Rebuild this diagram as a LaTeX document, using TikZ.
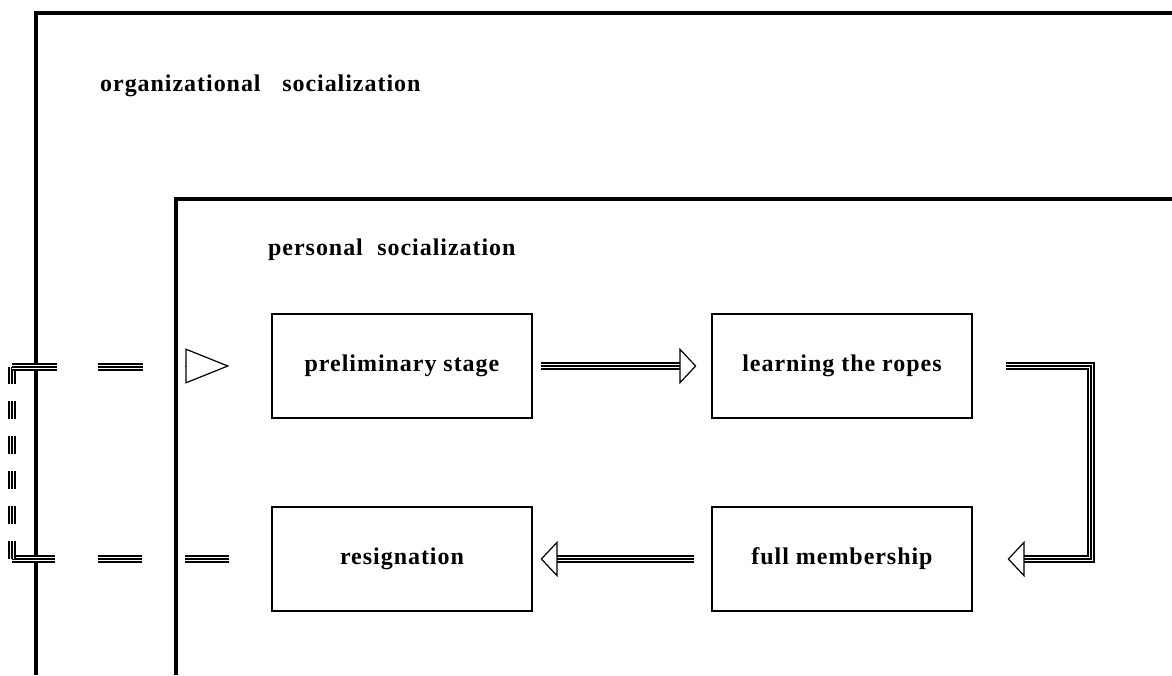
\documentclass[tikz,border=0pt]{standalone}
\usepackage{fontspec}
\setmainfont{Liberation Serif}[LetterSpace=4]
\usetikzlibrary{arrows.meta}
\newcommand\trip[2][]{%
  \draw[line width=8pt,#1] #2;
  \draw[white,line width=4.6pt,#1] #2;
  \draw[line width=2.2pt,#1] #2;}
\begin{document}
\begin{tikzpicture}[x=1pt,y=-1pt,
  stagebox/.style={draw,line width=1.1pt,minimum width=260pt,minimum height=104pt,
    font=\fontsize{24}{28}\selectfont\bfseries,inner sep=0pt},
  framel/.style={line width=3.5pt},
  lbl/.style={font=\fontsize{24}{28}\selectfont\bfseries,anchor=west,inner sep=0pt},
  head/.style={-{Triangle[open,length=17pt,width=36pt,line width=1.2pt]},line width=1pt},
  bighead/.style={-{Triangle[open,length=44pt,width=35pt,line width=1.2pt]},line width=1pt}]
\useasboundingbox (0,0) rectangle (1172,675);
% frames
\draw[framel] (36,675) -- (36,13) -- (1172,13);
\draw[framel] (176,675) -- (176,199) -- (1172,199);
\node[lbl] (org) at (100,86) {organizational\hspace{0.9em}socialization};
\node[lbl] (pers) at (268,250) {personal\hspace{0.6em}socialization};
% boxes
\node[stagebox] (pre) at (402,366) {preliminary stage};
\node[stagebox] (learn) at (842,366) {learning the ropes};
\node[stagebox] (res) at (402,559) {resignation};
\node[stagebox] (full) at (842,559) {full membership};
% arrow pre -> learn
\coordinate (a1s) at ([xshift=8pt]pre.east);
\coordinate (a1e) at ([xshift=-15pt]learn.west);
\trip{(a1s) -- ([xshift=-16pt]a1e)}
\draw[head] ([xshift=-17pt]a1e) -- (a1e);
% learn -> full (bent)
\coordinate (b1) at ([xshift=33pt]learn.east);
\coordinate (b2) at (1091,366);
\coordinate (b3) at (1091,559);
\coordinate (b4) at ([xshift=35pt]full.east);
\trip{(b1) -- (b2) -- (b3) -- ([xshift=16pt]b4)}
\draw[head] ([xshift=17pt]b4) -- (b4);
% full -> res
\coordinate (c1) at ([xshift=-17pt]full.west);
\coordinate (c2) at ([xshift=8pt]res.east);
\trip{(c1) -- ([xshift=16pt]c2)}
\draw[head] ([xshift=17pt]c2) -- (c2);
% res -> pre (dashed loop around)
\coordinate (d0) at ([xshift=-42pt]res.west);
\coordinate (d1) at (12,559);
\coordinate (d2) at (12,367);
\coordinate (d3) at ([xshift=-42pt]pre.west);
\trip[dash pattern=on 44pt off 43pt]{(d0) -- (d1)}
\trip[dash pattern=on 18pt off 17pt]{(d1) -- (d2)}
\trip[dash pattern=on 45pt off 41pt]{(d2) -- (143,367)}
\draw[bighead] ([xshift=-44pt]d3) -- (d3);
\end{tikzpicture}
\end{document}
